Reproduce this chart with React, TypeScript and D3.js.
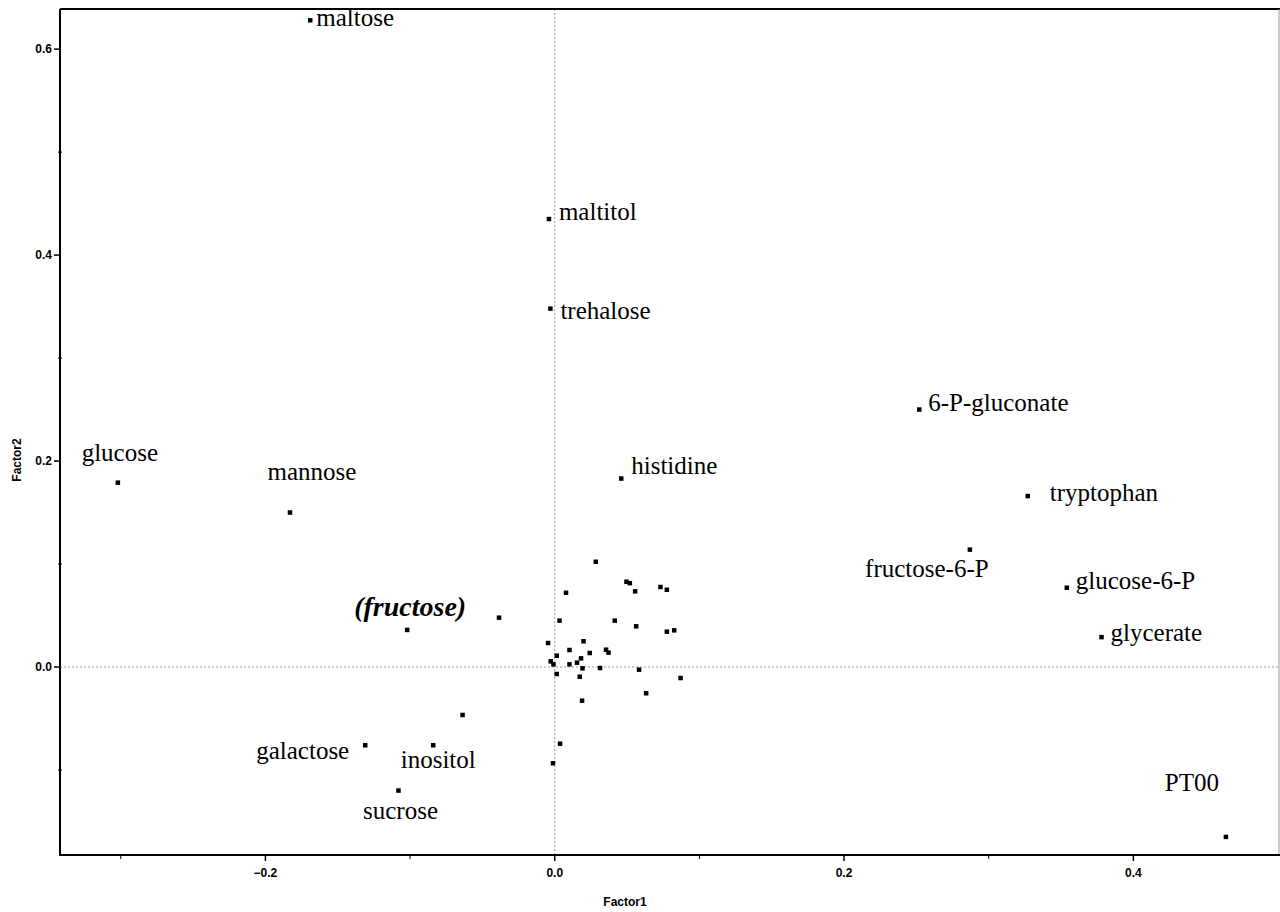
import React from "react";
import * as d3 from "d3";

const W = 1280;
const H = 912;

// Labeled points: [name, factor1, factor2]
const labelNames = ["maltose", "maltitol", "trehalose", "6-P-gluconate", "glucose", "mannose", "histidine", "tryptophan", "fructose-6-P", "glucose-6-P", "glycerate", "(fructose)", "galactose", "inositol", "sucrose", "PT00"];
const labelF1 = [-0.169, -0.004, -0.003, 0.252, -0.302, -0.183, 0.046, 0.327, 0.287, 0.354, 0.378, -0.102, -0.131, -0.084, -0.108, 0.464];
const labelF2 = [0.628, 0.435, 0.348, 0.250, 0.179, 0.150, 0.183, 0.166, 0.114, 0.077, 0.029, 0.036, -0.076, -0.076, -0.120, -0.165];
// label placement: anchor, dx, dy (px)
const labelAnchor = ["start", "start", "start", "start", "middle", "middle", "start", "start", "middle", "start", "start", "middle", "end", "middle", "middle", "middle"];
const labelDx = [6, 10, 10, 9, 2, 22, 10, 22, -43, 9, 9, 3, -16, 5, 2, -34];
const labelDy = [6, 1, 10, 1, -22, -33, -5, 5, 27, 1, 4, -14, 14, 23, 28, -46];

// Unlabeled points
const f1 = [0.0284, 0.0496, 0.0519, 0.0556, 0.0731, 0.0775, 0.0078, -0.0385, 0.0033, 0.0415, 0.0563, 0.0775, 0.0826, 0.0199, -0.0046, 0.0102, 0.0355, 0.0372, 0.0242, 0.0014, -0.0028, -0.0009, 0.0102, 0.0182, 0.0154, 0.0192, 0.0313, 0.0583, 0.0014, 0.0173, 0.0870, 0.0632, 0.0189, 0.0037, -0.0012, -0.0637];
const f2 = [0.1022, 0.0828, 0.0814, 0.0735, 0.0777, 0.0750, 0.0721, 0.0479, 0.0450, 0.0450, 0.0395, 0.0343, 0.0356, 0.0250, 0.0233, 0.0165, 0.0168, 0.0139, 0.0136, 0.0110, 0.0055, 0.0026, 0.0026, 0.0084, 0.0042, -0.0013, -0.0010, -0.0026, -0.0068, -0.0094, -0.0107, -0.0255, -0.0327, -0.0745, -0.0935, -0.0466];

const xTicks = [-0.2, 0.0, 0.2, 0.4];
const xMinor = [-0.3, -0.1, 0.1, 0.3];
const yTicks = [0.0, 0.2, 0.4, 0.6];
const yMinor = [-0.1, 0.1, 0.3, 0.5];

const left = 60, right = 1278, top = 9, bottom = 855;

export default function App() {
  const x = d3.scaleLinear().domain([-0.342, 0.5]).range([left, right]);
  const y = d3.scaleLinear().domain([0.639, 0.0]).range([top, 667]);
  const yBottom = y.invert(bottom);
  y.domain([0.639, yBottom]).range([top, bottom]);
  const fmt = d3.format(".1f");
  const sq = 4.5;
  const tickFont = "'Liberation Sans', Arial, sans-serif";
  const serif = "'Liberation Serif', 'Times New Roman', serif";

  return (
    <svg width={W} height={H} style={{ position: "absolute", left: 0, top: 0, background: "#fff" }}>
      <rect x={0} y={0} width={W} height={H} fill="#fff" />
      {/* zero lines */}
      <line x1={x(0)} x2={x(0)} y1={top} y2={bottom} stroke="#999" strokeWidth={1} strokeDasharray="2,2" />
      <line x1={left} x2={right} y1={y(0)} y2={y(0)} stroke="#999" strokeWidth={1} strokeDasharray="2,2" />
      {/* frame */}
      <line x1={left} x2={W} y1={top} y2={top} stroke="#000" strokeWidth={2} />
      <line x1={right + 1} x2={right + 1} y1={top} y2={bottom} stroke="#999" strokeWidth={1} />
      <line x1={left} x2={left} y1={top} y2={bottom + 1} stroke="#000" strokeWidth={2} />
      <line x1={left - 1} x2={W} y1={bottom} y2={bottom} stroke="#000" strokeWidth={2} />
      {/* x ticks */}
      {xTicks.map((t) => (
        <g key={"xt" + t}>
          <line x1={x(t)} x2={x(t)} y1={bottom} y2={bottom + 6} stroke="#000" strokeWidth={1.5} />
          <text x={x(t)} y={bottom + 22} textAnchor="middle" fontFamily={tickFont} fontSize={12} fontWeight="bold">{fmt(t)}</text>
        </g>
      ))}
      {xMinor.map((t) => (
        <line key={"xm" + t} x1={x(t)} x2={x(t)} y1={bottom} y2={bottom + 4} stroke="#000" strokeWidth={1} />
      ))}
      {/* y ticks */}
      {yTicks.map((t) => (
        <g key={"yt" + t}>
          <line x1={left - 6} x2={left} y1={y(t)} y2={y(t)} stroke="#000" strokeWidth={1.5} />
          <text x={left - 8} y={y(t) + 4} textAnchor="end" fontFamily={tickFont} fontSize={12} fontWeight="bold">{fmt(t)}</text>
        </g>
      ))}
      {yMinor.map((t) => (
        <line key={"ym" + t} x1={left - 2} x2={left + 2} y1={y(t)} y2={y(t)} stroke="#000" strokeWidth={1} />
      ))}
      {/* axis titles */}
      <text x={625} y={906} textAnchor="middle" fontFamily={tickFont} fontSize={12} fontWeight="bold">Factor1</text>
      <text transform={`translate(21,460) rotate(-90)`} textAnchor="middle" fontFamily={tickFont} fontSize={12} fontWeight="bold">Factor2</text>
      {/* unlabeled points */}
      {f1.map((v, i) => (
        <rect key={"p" + i} x={x(v) - sq / 2} y={y(f2[i]) - sq / 2} width={sq} height={sq} fill="#000" />
      ))}
      {/* labeled points */}
      {labelNames.map((n, i) => {
        const px = x(labelF1[i]);
        const py = y(labelF2[i]);
        const isF = n === "(fructose)";
        return (
          <g key={"l" + n}>
            <rect x={px - sq / 2} y={py - sq / 2} width={sq} height={sq} fill="#000" />
            <text x={px + labelDx[i]} y={py + labelDy[i]} textAnchor={labelAnchor[i] as any} fontFamily={serif} fontSize={isF ? 28 : 25}
              fontWeight={isF ? "bold" : "normal"} fontStyle={isF ? "italic" : "normal"} fill="#000">{n}</text>
          </g>
        );
      })}
    </svg>
  );
}
